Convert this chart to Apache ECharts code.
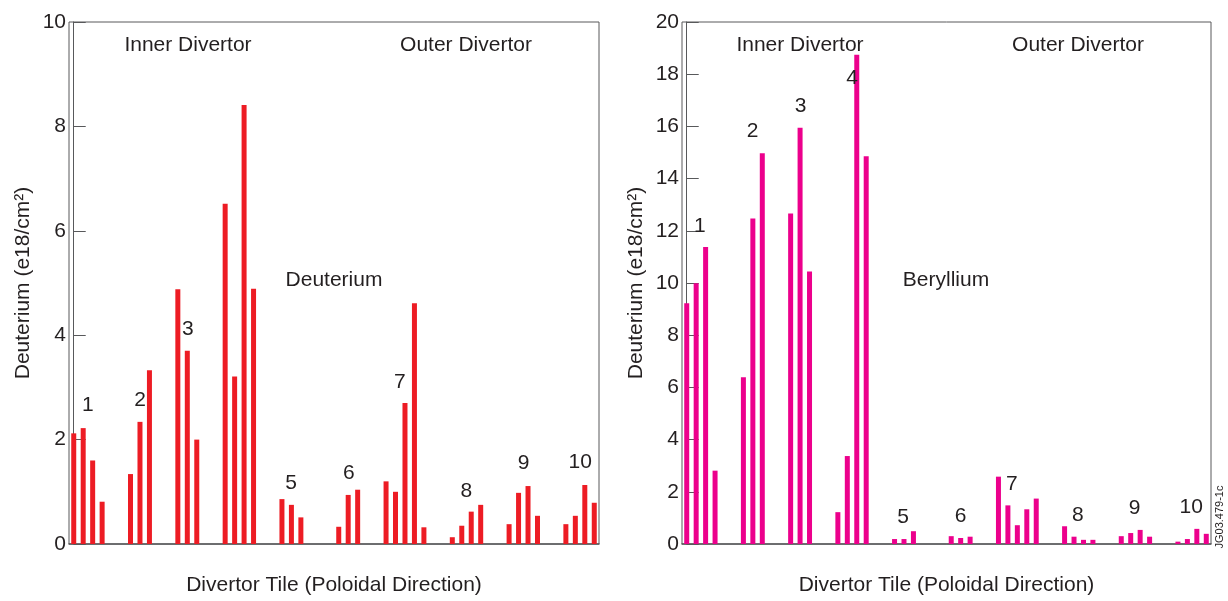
<!DOCTYPE html>
<html>
<head>
<meta charset="utf-8">
<script src="https://cdn.jsdelivr.net/npm/echarts@6/dist/echarts.min.js"></script>
<style>
html,body{margin:0;padding:0;background:#fff;}
#chart{width:1228px;height:601px;}
</style>
</head>
<body>
<div id="chart"></div>
<script>
// Tile slot positions along the poloidal direction (shared by both panels)
const tileSlots = [0,1,2,3, 6,7,8, 11,12,13, 16,17,18,19, 22,23,24, 28,29,30, 33,34,35,36,37, 40,41,42,43, 46,47,48,49, 52,53,54,55];
// Deuterium panel values (e18/cm2)
const deuteriumValues = [2.12,2.22,1.60,0.81, 1.34,2.34,3.33, 4.88,3.70,2.00, 6.52,3.21,8.41,4.89, 0.86,0.75,0.51, 0.33,0.94,1.04, 1.20,1.00,2.70,4.61,0.32, 0.13,0.35,0.62,0.75, 0.38,0.98,1.11,0.54, 0.38,0.54,1.13,0.79];
// Beryllium panel values (e18/cm2)
const berylliumValues = [9.22,9.99,11.38,2.81, 6.39,12.47,14.97, 12.66,15.95,10.44, 1.22,3.37,18.75,14.86, 0.19,0.19,0.49, 0.30,0.23,0.28, 2.58,1.48,0.72,1.33,1.74, 0.68,0.28,0.16,0.16, 0.30,0.42,0.54,0.28, 0.09,0.19,0.58,0.39];
// Tile number labels and their anchors in data coordinates
const leftTileNames = ['1','2','3','5','6','7','8','9','10'];
const leftTileAnchorX = [1.5, 7.0, 12.05, 22.97, 29.07, 34.46, 41.47, 47.53, 53.52];
const leftTileAnchorY = [2.65, 2.76, 4.11, 1.17, 1.36, 3.10, 1.02, 1.55, 1.57];
const rightTileNames = ['1','2','3','4','5','6','7','8','9','10'];
const rightTileAnchorX = [1.4, 6.98, 12.05, 17.5, 22.9, 29.0, 34.42, 41.4, 47.42, 53.4];
const rightTileAnchorY = [12.18, 15.8, 16.79, 17.83, 1.03, 1.06, 2.31, 1.10, 1.36, 1.40];
const leftYTicks = [0,2,4,6,8,10];
const rightYTicks = [0,2,4,6,8,10,12,14,16,18,20];

const FONT = 'Liberation Sans, Arial, Helvetica, sans-serif';
const TXT = '#231f20';
const AX = '#58595b';

function pairs(xs, ys){ return xs.map((x,i)=>[x, ys[i]]); }
function labelData(names, xs, ys){ return names.map((n,i)=>({name:n, value:[xs[i], ys[i]]})); }

function xAxisDef(idx){
  return {gridIndex: idx, type:'value', min:-0.5, max:55.5,
    axisLine:{show:true, lineStyle:{color:AX, width:1.5}}, axisTick:{show:false}, axisLabel:{show:false}, splitLine:{show:false},
    name:'Divertor Tile (Poloidal Direction)', nameLocation:'middle', nameGap:31,
    nameTextStyle:{fontFamily:FONT, fontSize:21, color:TXT}};
}
function yAxisDef(idx, ticks){
  return {gridIndex: idx, type:'value', min:ticks[0], max:ticks[ticks.length-1], interval:ticks[1]-ticks[0],
    axisLine:{show:true, lineStyle:{color:AX, width:1}},
    axisTick:{show:true, inside:true, length:12, lineStyle:{color:AX}},
    axisLabel:{fontFamily:FONT, fontSize:21, color:TXT, margin:3},
    splitLine:{show:false},
    name:'Deuterium (e18/cm²)', nameLocation:'middle', nameGap:35,
    nameTextStyle:{fontFamily:FONT, fontSize:21, color:TXT}};
}
function labelSeries(idx, names, xs, ys){
  return {type:'scatter', xAxisIndex:idx, yAxisIndex:idx, symbolSize:1, itemStyle:{color:'rgba(0,0,0,0)', opacity:1},
    data: labelData(names, xs, ys), silent:true,
    label:{show:true, position:'inside', formatter:'{b}', fontFamily:FONT, fontSize:21, color:TXT, opacity:1}};
}
function txt(x,y,s,extra){
  return Object.assign({type:'text', x:x, y:y, style:{text:s, fontFamily:FONT, fontSize:21, fill:TXT, textAlign:'center', textVerticalAlign:'middle'}}, extra||{});
}

const chart = echarts.init(document.getElementById('chart'));
chart.setOption({
  animation:false,
  backgroundColor:'#fff',
  grid:[
    {left:69, top:22, width:530, height:529, show:true, borderColor:AX, borderWidth:1},
    {left:682, top:22, width:529, height:529, show:true, borderColor:AX, borderWidth:1}
  ],
  xAxis:[xAxisDef(0), xAxisDef(1)],
  yAxis:[yAxisDef(0, leftYTicks), yAxisDef(1, rightYTicks)],
  series:[
    {type:'bar', xAxisIndex:0, yAxisIndex:0, barWidth:5, itemStyle:{color:'#ed1c24'}, data:pairs(tileSlots, deuteriumValues)},
    {type:'bar', xAxisIndex:1, yAxisIndex:1, barWidth:5, itemStyle:{color:'#ec008c'}, data:pairs(tileSlots, berylliumValues)},
    labelSeries(0, leftTileNames, leftTileAnchorX, leftTileAnchorY),
    labelSeries(1, rightTileNames, rightTileAnchorX, rightTileAnchorY)
  ],
  graphic:[
    txt(188, 45, 'Inner Divertor'),
    txt(466, 45, 'Outer Divertor'),
    txt(334, 280, 'Deuterium'),
    txt(800, 45, 'Inner Divertor'),
    txt(1078, 45, 'Outer Divertor'),
    txt(946, 280, 'Beryllium'),
    {type:'text', x:1220, y:517, rotation:Math.PI/2, style:{text:'JG03.479-1c', fontFamily:FONT, fontSize:11, fill:TXT, textAlign:'center', textVerticalAlign:'middle'}}
  ]
});
</script>
</body>
</html>
